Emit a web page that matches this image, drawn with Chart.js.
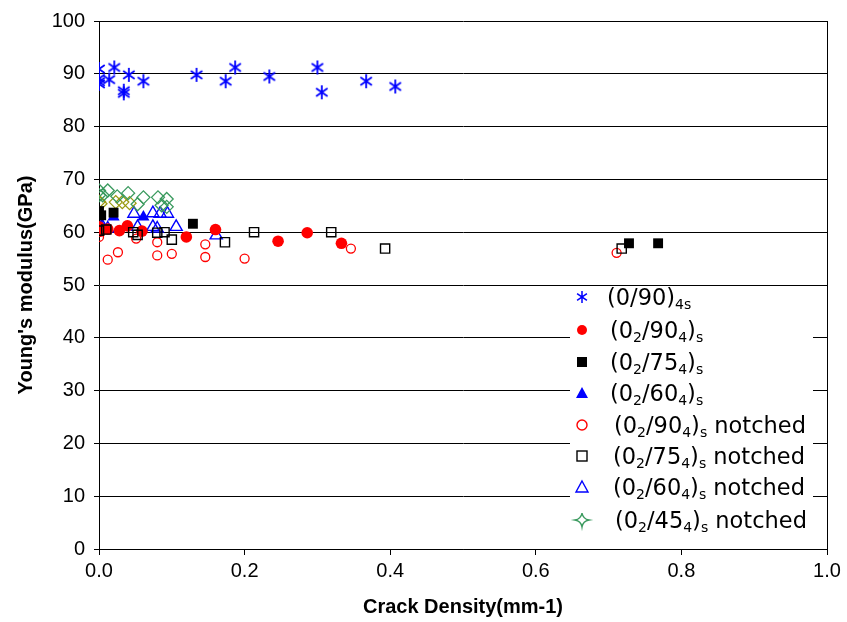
<!DOCTYPE html>
<html>
<head>
<meta charset="utf-8">
<script src="https://cdn.jsdelivr.net/npm/chart.js@4/dist/chart.umd.min.js"></script>
<style>
html,body{margin:0;padding:0;background:#fff;}
#wrap{width:847px;height:622px;}
</style>
</head>
<body>
<div id="wrap"><canvas id="c" width="847" height="622"></canvas></div>
<script>
// ---- data ----
const xTicks = [0.0, 0.2, 0.4, 0.6, 0.8, 1.0];
const yTicks = [0, 10, 20, 30, 40, 50, 60, 70, 80, 90, 100];

const s1Label = '(0/90)4s';
const s1X = [0, 0, 0, 0, 0.014, 0.021, 0.034, 0.034, 0.041, 0.061, 0.134, 0.174, 0.187, 0.234, 0.300, 0.306, 0.367, 0.407];
const s1Y = [90.9, 89.1, 88.5, 88.1, 88.9, 91.2, 86.8, 86.3, 89.8, 88.6, 89.8, 88.6, 91.2, 89.5, 91.2, 86.5, 88.6, 87.6];

const s2Label = '(02/904)s';
const s2X = [0, 0.002, 0.012, 0.028, 0.039, 0.059, 0.120, 0.160, 0.246, 0.286, 0.333];
const s2Y = [61.0, 60.2, 60.6, 60.3, 61.2, 60.2, 59.1, 60.5, 58.3, 59.9, 57.9];

const s3Label = '(02/754)s';
const s3X = [0, 0.003, 0.020, 0.129, 0.728, 0.768];
const s3Y = [64.0, 63.2, 63.7, 61.6, 57.9, 57.9];

const s4Label = '(02/604)s';
const s4X = [0, 0.003, 0.020, 0.061];
const s4Y = [63.2, 61.2, 62.9, 62.9];

const s5Label = '(02/904)s notched';
const s5X = [0, 0.012, 0.026, 0.051, 0.080, 0.080, 0.100, 0.146, 0.146, 0.200, 0.346, 0.711];
const s5Y = [59.1, 54.8, 56.2, 58.8, 58.1, 55.6, 55.9, 57.7, 55.3, 55.0, 56.9, 56.1];

const s6Label = '(02/754)s notched';
const s6X = [0, 0.010, 0.047, 0.053, 0.080, 0.090, 0.100, 0.173, 0.213, 0.319, 0.393, 0.718];
const s6Y = [60.3, 60.5, 60.0, 59.5, 59.9, 60.0, 58.6, 58.1, 60.0, 60.0, 56.9, 56.9];

const s7Label = '(02/604)s notched';
const s7X = [0.005, 0.012, 0.048, 0.053, 0.074, 0.074, 0.080, 0.084, 0.094, 0.106, 0.161];
const s7Y = [61.0, 60.7, 63.5, 61.0, 63.6, 61.0, 60.7, 63.5, 63.5, 61.0, 59.4];

const s8Label = '(02/454)s notched';
const s8X = [0, 0, 0.005, 0.012, 0.025, 0.040, 0.053, 0.061, 0.081, 0.086, 0.093, 0.093];
const s8Y = [67.9, 67.0, 67.0, 67.9, 66.8, 67.4, 65.3, 66.6, 66.6, 65.1, 66.3, 64.8];

const s9Label = 'unlisted';
const s9X = [0, 0.002, 0.023, 0.032, 0.042];
const s9Y = [65.8, 65.4, 65.7, 65.7, 65.5];

// ---- styling ----
const BLUE = '#0000ff', RED = '#ff0000', BLACK = '#000000', GREEN = '#3a9a5e', OLIVE = '#9a9a10';

function asteriskCanvas(size, color, lw) {
  const c = document.createElement('canvas');
  c.width = size; c.height = size;
  const g = c.getContext('2d');
  g.strokeStyle = color; g.lineWidth = lw;
  const m = size / 2, r = size / 2 - 1;
  g.beginPath();
  g.moveTo(m, m - r); g.lineTo(m, m + r);
  const a = 35 * Math.PI / 180;
  g.moveTo(m - r * Math.cos(a), m - r * Math.sin(a)); g.lineTo(m + r * Math.cos(a), m + r * Math.sin(a));
  g.moveTo(m - r * Math.cos(a), m + r * Math.sin(a)); g.lineTo(m + r * Math.cos(a), m - r * Math.sin(a));
  g.stroke();
  return c;
}
const starImg = asteriskCanvas(16, BLUE, 1.8);
const starLegend = asteriskCanvas(14, BLUE, 1.5);

function pts(xs, ys) { return xs.map((x, i) => ({ x: x, y: ys[i] })); }

const datasets = [
  { label: s6Label, data: pts(s6X, s6Y), pointStyle: 'rect', pointRadius: 6.5, backgroundColor: 'rgba(0,0,0,0)', borderColor: BLACK, borderWidth: 1.4 },
  { label: s5Label, data: pts(s5X, s5Y), pointStyle: 'circle', pointRadius: 4.5, backgroundColor: 'rgba(0,0,0,0)', borderColor: RED, borderWidth: 1.3 },
  { label: s2Label, data: pts(s2X, s2Y), pointStyle: 'circle', pointRadius: 5.8, backgroundColor: RED, borderColor: RED, borderWidth: 0 },
  { label: s3Label, data: pts(s3X, s3Y), pointStyle: 'rect', pointRadius: 7, backgroundColor: BLACK, borderColor: BLACK, borderWidth: 0 },
  { label: s8Label, data: pts(s8X, s8Y), pointStyle: 'rectRot', pointRadius: 6.5, backgroundColor: 'rgba(0,0,0,0)', borderColor: GREEN, borderWidth: 1.3 },
  { label: s9Label, data: pts(s9X, s9Y), pointStyle: 'rectRot', pointRadius: 6.5, backgroundColor: 'rgba(0,0,0,0)', borderColor: OLIVE, borderWidth: 1.3 },
  { label: s7Label, data: pts(s7X, s7Y), pointStyle: 'triangle', pointRadius: 7, backgroundColor: 'rgba(0,0,0,0)', borderColor: BLUE, borderWidth: 1.4 },
  { label: s4Label, data: pts(s4X, s4Y), pointStyle: 'triangle', pointRadius: 7, backgroundColor: BLUE, borderColor: BLUE, borderWidth: 0 },
  { label: s1Label, data: pts(s1X, s1Y), pointStyle: starImg, pointRadius: 8 }
];

// legend rows: text segments [text, isSubscript]
const legendRows = [
  { mark: 'star',   segs: [['(0/90)', 0], ['4s', 1]] },
  { mark: 'dotF',   segs: [['(0', 0], ['2', 1], ['/90', 0], ['4', 1], [')', 0], ['s', 1]] },
  { mark: 'sqF',    segs: [['(0', 0], ['2', 1], ['/75', 0], ['4', 1], [')', 0], ['s', 1]] },
  { mark: 'triF',   segs: [['(0', 0], ['2', 1], ['/60', 0], ['4', 1], [')', 0], ['s', 1]] },
  { mark: 'dotO',   segs: [['(0', 0], ['2', 1], ['/90', 0], ['4', 1], [')', 0], ['s', 1], [' notched', 0]] },
  { mark: 'sqO',    segs: [['(0', 0], ['2', 1], ['/75', 0], ['4', 1], [')', 0], ['s', 1], [' notched', 0]] },
  { mark: 'triO',   segs: [['(0', 0], ['2', 1], ['/60', 0], ['4', 1], [')', 0], ['s', 1], [' notched', 0]] },
  { mark: 'diaO',   segs: [['(0', 0], ['2', 1], ['/45', 0], ['4', 1], [')', 0], ['s', 1], [' notched', 0]] }
];

const legendPlugin = {
  id: 'customLegend',
  afterDatasetsDraw(chart) {
    const ctx = chart.ctx;
    const ca = chart.chartArea;
    ctx.save();
    // right border of plot box
    ctx.strokeStyle = BLACK; ctx.lineWidth = 1;
    ctx.beginPath(); ctx.moveTo(Math.round(ca.right) + 0.5, ca.top); ctx.lineTo(Math.round(ca.right) + 0.5, ca.bottom); ctx.stroke();
    // legend background
    ctx.fillStyle = '#ffffff';
    ctx.fillRect(570, 288, 243, 250);
    const rowY = [297, 330, 362, 393, 425, 456, 487, 520];
    const textX = [607, 610, 610, 610, 614, 613, 613, 615];
    const mx = 582;
    legendRows.forEach((row, i) => {
      const y = rowY[i];
      ctx.lineWidth = 1.4;
      switch (row.mark) {
        case 'star': ctx.drawImage(starLegend, mx - 7, y - 7); break;
        case 'dotF': ctx.fillStyle = RED; ctx.beginPath(); ctx.arc(mx, y, 5, 0, Math.PI * 2); ctx.fill(); break;
        case 'sqF': ctx.fillStyle = BLACK; ctx.fillRect(mx - 5, y - 5, 10, 10); break;
        case 'triF': ctx.fillStyle = BLUE; ctx.beginPath(); ctx.moveTo(mx, y - 6); ctx.lineTo(mx + 6, y + 5); ctx.lineTo(mx - 6, y + 5); ctx.closePath(); ctx.fill(); break;
        case 'dotO': ctx.strokeStyle = RED; ctx.beginPath(); ctx.arc(mx, y, 5, 0, Math.PI * 2); ctx.stroke(); break;
        case 'sqO': ctx.strokeStyle = BLACK; ctx.strokeRect(mx - 5, y - 5, 10, 10); break;
        case 'triO': ctx.strokeStyle = BLUE; ctx.beginPath(); ctx.moveTo(mx, y - 6); ctx.lineTo(mx + 6, y + 5); ctx.lineTo(mx - 6, y + 5); ctx.closePath(); ctx.stroke(); break;
        case 'diaO': ctx.strokeStyle = GREEN; ctx.beginPath(); ctx.moveTo(mx, y - 7); ctx.quadraticCurveTo(mx + 1, y - 1, mx + 7, y); ctx.quadraticCurveTo(mx + 1, y + 1, mx, y + 7); ctx.quadraticCurveTo(mx - 1, y + 1, mx - 7, y); ctx.quadraticCurveTo(mx - 1, y - 1, mx, y - 7); ctx.stroke(); break;
      }
      let x = textX[i];
      ctx.fillStyle = '#000000';
      ctx.textBaseline = 'alphabetic';
      row.segs.forEach(([t, sub]) => {
        ctx.font = sub ? '14px "DejaVu Sans"' : '22.5px "DejaVu Sans"';
        ctx.fillText(t, x, sub ? y + 12 : y + 8);
        x += ctx.measureText(t).width;
      });
    });
    ctx.restore();
  }
};

const TICK_FONT = { family: '"Liberation Sans", Arial, sans-serif', size: 20 };
const TITLE_FONT = { family: '"Liberation Sans", Arial, sans-serif', size: 20, weight: 'bold' };

new Chart(document.getElementById('c'), {
  type: 'scatter',
  data: { datasets: datasets },
  options: {
    responsive: false,
    animation: false,
    devicePixelRatio: 1,
    layout: { padding: { top: 20, right: 20, left: 0, bottom: 0 } },
    plugins: { legend: { display: false }, tooltip: { enabled: false } },
    scales: {
      x: {
        type: 'linear', min: 0, max: 1,
        afterBuildTicks: (s) => { s.ticks = xTicks.map(v => ({ value: v })); },
        ticks: { font: TICK_FONT, color: BLACK, padding: 4, callback: (v) => Number(v).toFixed(1), maxRotation: 0 },
        grid: { drawOnChartArea: false, drawTicks: true, tickLength: 6, tickColor: BLACK },
        border: { display: true, color: BLACK, width: 1 },
        title: { display: true, text: 'Crack Density(mm-1)', font: TITLE_FONT, color: BLACK, padding: { top: 3, bottom: 3 } },
        afterFit: (s) => { s.height = 73; }
      },
      y: {
        type: 'linear', min: 0, max: 100,
        afterBuildTicks: (s) => { s.ticks = yTicks.map(v => ({ value: v })); },
        ticks: { font: TICK_FONT, color: BLACK, padding: 9 },
        grid: { color: BLACK, lineWidth: 1, tickLength: 5, tickColor: BLACK },
        border: { display: true, color: BLACK, width: 1 },
        title: { display: true, text: "Young's modulus(GPa)", font: TITLE_FONT, color: BLACK, padding: { top: 14, bottom: 0 } },
        afterFit: (s) => { s.width = 99; }
      }
    }
  },
  plugins: [legendPlugin]
});
</script>
</body>
</html>
